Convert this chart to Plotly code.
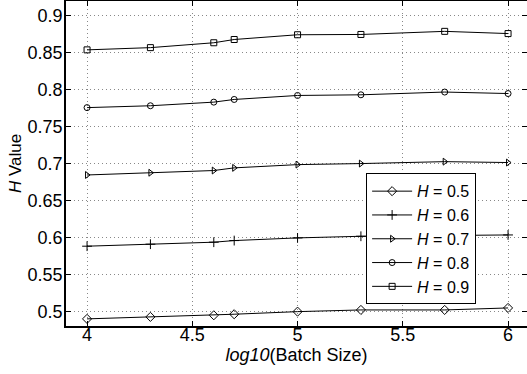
import plotly.graph_objects as go
import numpy as np

batch_sizes = [1e4, 2e4, 4e4, 5e4, 1e5, 2e5, 5e5, 1e6]
x_log = list(np.log10(batch_sizes))

h_labels = ["0.5", "0.6", "0.7", "0.8", "0.9"]
h05 = [0.4906, 0.4933, 0.4955, 0.4969, 0.5004, 0.5027, 0.5027, 0.5054]
h06 = [0.5888, 0.5915, 0.5942, 0.5964, 0.6000, 0.6022, 0.6030, 0.6040]
h07 = [0.6850, 0.6880, 0.6910, 0.6946, 0.6990, 0.7004, 0.7030, 0.7018]
h08 = [0.7760, 0.7785, 0.7834, 0.7870, 0.7924, 0.7933, 0.7970, 0.7950]
h09 = [0.8540, 0.8570, 0.8636, 0.8680, 0.8744, 0.8748, 0.8790, 0.8760]
series = [h05, h06, h07, h08, h09]
symbols = ["diamond-open", "cross-thin-open", "triangle-right-open", "circle-open", "square-open"]
sizes = [7, 7, 6, 6, 6]

xticks = [4, 4.5, 5, 5.5, 6]
yticks = [0.5, 0.55, 0.6, 0.65, 0.7, 0.75, 0.8, 0.85, 0.9]

FONT = "Liberation Sans, Arial, sans-serif"

fig = go.Figure()
for lab, ys, sym, sz in zip(h_labels, series, symbols, sizes):
    fig.add_trace(go.Scatter(
        x=x_log, y=ys, mode="lines+markers",
        name="<i>H</i> = " + lab,
        line=dict(color="black", width=1),
        marker=dict(symbol=sym, size=sz, color="black",
                    line=dict(color="black", width=1)),
    ))

axis_common = dict(
    automargin=False,
    showline=True, linecolor="black", linewidth=1.5, mirror="ticks",
    ticks="inside", ticklen=5, tickcolor="black",
    showgrid=True, gridcolor="#888888", griddash="1px,3px", gridwidth=1,
    zeroline=False, tickfont=dict(size=18, color="black", family=FONT),
)

fig.update_layout(
    width=527, height=374,
    margin=dict(l=66, r=0, t=1, b=48),
    paper_bgcolor="white", plot_bgcolor="white",
    font=dict(family=FONT, size=18, color="black"),
    xaxis=dict(range=[3.9, 6.09], tickvals=xticks,
               ticktext=[("%g" % v) for v in xticks],
               ticklabelstandoff=-8,
               title=dict(text="<i>log10</i>(Batch Size)", standoff=0,
                          font=dict(size=18)),
               **axis_common),
    yaxis=dict(range=[0.481, 0.92], tickvals=yticks,
               ticktext=[("%g" % v) for v in yticks],
               ticklabelstandoff=-2,
               title=dict(text="<i>H</i> Value", standoff=2,
                          font=dict(size=17)),
               **axis_common),
    legend=dict(x=0.651, y=0.47, xanchor="left", yanchor="top",
                bgcolor="white", bordercolor="black", borderwidth=1,
                font=dict(size=16), tracegroupgap=0, itemwidth=40),
    showlegend=True,
)

fig.write_html("out.html", config={"displayModeBar": False},
               post_script="document.body.style.margin='0';document.body.style.padding='0';")
